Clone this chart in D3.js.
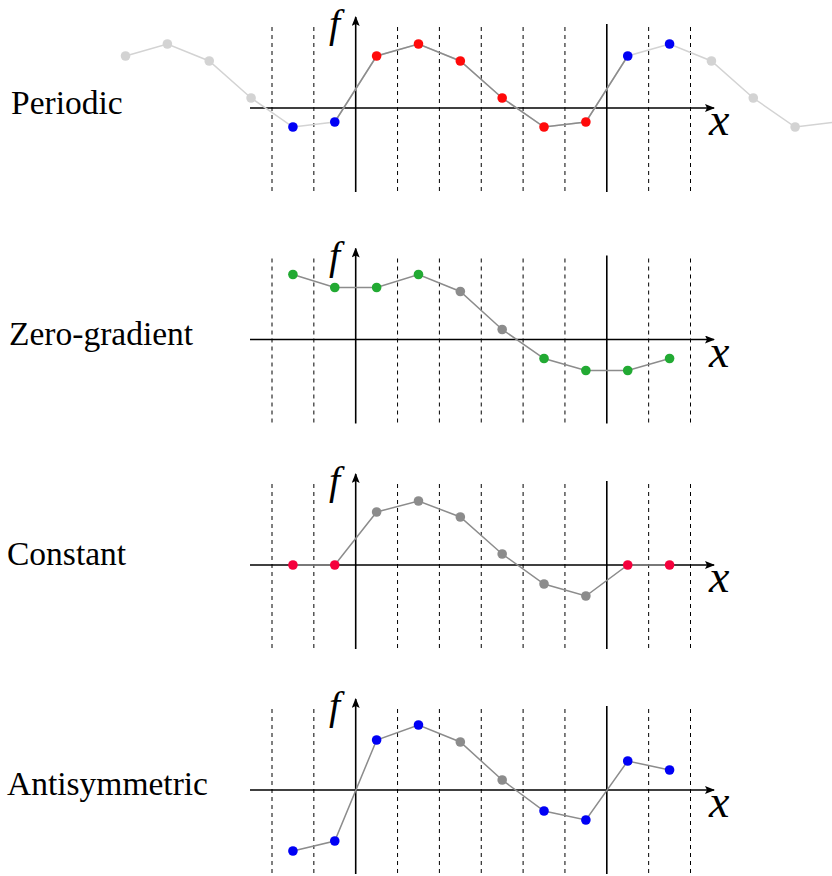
<!DOCTYPE html>
<html>
<head>
<meta charset="utf-8">
<script src="https://cdn.jsdelivr.net/npm/d3@7"></script>
<style>
  body { margin: 0; background: #fff; }
</style>
</head>
<body>
<div id="chart"></div>
<script>
// cell centres (in cell widths, the y axis sits at 0, the right boundary at 6)
const cellsPeriodic = [-5.5, -4.5, -3.5, -2.5, -1.5, -0.5, 0.5, 1.5, 2.5, 3.5, 4.5, 5.5, 6.5, 7.5, 8.5, 9.5, 10.5, 11.5];
const cells = [-1.5, -0.5, 0.5, 1.5, 2.5, 3.5, 4.5, 5.5, 6.5, 7.5];

// values
const periodicValues = [5.2, 6.4, 4.7, 1.0, -1.9, -1.4, 5.2, 6.4, 4.7, 1.0, -1.9, -1.4, 5.2, 6.4, 4.7, 1.0, -1.9, -1.4];
const zeroGradValues = [6.5, 5.2, 5.2, 6.5, 4.8, 1.0, -1.9, -3.1, -3.1, -1.9];
const constantValues = [0, 0, 5.3, 6.4, 4.8, 1.1, -1.9, -3.1, 0, 0];
const antisymValues = [-6.1, -5.1, 5.0, 6.5, 4.8, 1.0, -2.1, -3.0, 2.9, 2.0];

// point colour class for each value
const periodicKinds = ['faint', 'faint', 'faint', 'faint', 'blue', 'blue', 'red', 'red', 'red', 'red', 'red', 'red', 'blue', 'blue', 'faint', 'faint', 'faint', 'faint'];
const zeroGradKinds = ['green', 'green', 'green', 'green', 'gray', 'gray', 'green', 'green', 'green', 'green'];
const constantKinds = ['crimson', 'crimson', 'gray', 'gray', 'gray', 'gray', 'gray', 'gray', 'crimson', 'crimson'];
const antisymKinds = ['blue', 'blue', 'blue', 'blue', 'gray', 'gray', 'blue', 'blue', 'blue', 'blue'];

const labels = ['Periodic', 'Zero-gradient', 'Constant', 'Antisymmetric'];
const faces = [-2, -1, 1, 2, 3, 4, 5, 7, 8];

const colors = {
    faint: '#d3d3d3', blue: '#0000f5', red: '#ff0a0a', green: '#22aa33',
    gray: '#8c8c8c', crimson: '#f5003c'
};
const serif = 'Liberation Serif';

const width = 832, height = 876;
const svg = d3.select('#chart').append('svg')
    .attr('width', width)
    .attr('height', height);

const defs = svg.append('defs');
defs.append('marker')
    .attr('id', 'arrow')
    .attr('viewBox', '0 0 10 8')
    .attr('refX', 9).attr('refY', 4)
    .attr('markerWidth', 10).attr('markerHeight', 8)
    .attr('markerUnits', 'userSpaceOnUse')
    .attr('orient', 'auto')
    .append('path').attr('d', 'M0,0 L10,4 L0,8 L2,4 Z').attr('fill', '#000');

const x = d3.scaleLinear().domain([-2, 8]).range([272, 690.5]);

const panels = [
    { label: labels[0], cells: cellsPeriodic, values: periodicValues, kinds: periodicKinds, axisY: 108, labelX: 11, labelY: 114, dark: [5, 12] },
    { label: labels[1], cells: cells, values: zeroGradValues, kinds: zeroGradKinds, axisY: 339.5, labelX: 9, labelY: 345 },
    { label: labels[2], cells: cells, values: constantValues, kinds: constantKinds, axisY: 565, labelX: 7, labelY: 565 },
    { label: labels[3], cells: cells, values: antisymValues, kinds: antisymKinds, axisY: 790, labelX: 7, labelY: 795 }
];

panels.forEach(p => {
    const g = svg.append('g');
    //one unit = 10px
    const y = d3.scaleLinear().domain([-8.4, 8.1]).range([p.axisY + 84, p.axisY - 81]);

    g.append('text')
        .attr('x', p.labelX).attr('y', p.labelY)
        .style('font-family', serif)
        .attr('font-size', 33.5)
        .text(p.label);

    //dashed cell faces
    g.selectAll('.face').data(faces).join('line')
        .attr('x1', d => x(d)).attr('x2', d => x(d))
        .attr('y1', y(8.1)).attr('y2', y(-8.4))
        .attr('stroke', '#000').attr('stroke-width', 1)
        .attr('stroke-dasharray', '4,4');

    //right boundary
    g.append('line')
        .attr('x1', x(6)).attr('x2', x(6))
        .attr('y1', y(8.4)).attr('y2', y(-8.4))
        .attr('stroke', '#000').attr('stroke-width', 1.6);

    //axes
    g.append('line')
        .attr('x1', 250).attr('x2', 714)
        .attr('y1', y(0)).attr('y2', y(0))
        .attr('stroke', '#000').attr('stroke-width', 1.6)
        .attr('marker-end', 'url(#arrow)');
    g.append('line')
        .attr('x1', x(0)).attr('x2', x(0))
        .attr('y1', y(-8.4)).attr('y2', y(9.1))
        .attr('stroke', '#000').attr('stroke-width', 1.6)
        .attr('marker-end', 'url(#arrow)');

    g.append('text')
        .attr('x', 329).attr('y', y(7.1))
        .style('font-family', serif)
        .attr('font-size', 40).attr('font-style', 'italic')
        .text('f');
    g.append('text')
        .attr('x', 709).attr('y', y(-2.7))
        .style('font-family', serif)
        .attr('font-size', 46).attr('font-style', 'italic')
        .text('x');

    const pts = p.values.map((v, i) => ({ c: p.cells[i], v: v, k: p.kinds[i] }));
    const line = d3.line().x(d => x(d.c)).y(d => y(d.v));

    g.append('path')
        .attr('d', line(pts))
        .attr('fill', 'none')
        .attr('stroke', p.dark ? colors.faint : colors.gray)
        .attr('stroke-width', 1.5);
    if (p.dark) {
        g.append('path')
            .attr('d', line(pts.slice(p.dark[0], p.dark[1] + 1)))
            .attr('fill', 'none')
            .attr('stroke', colors.gray)
            .attr('stroke-width', 1.5);
    }

    g.selectAll('.pt').data(pts).join('circle')
        .attr('cx', d => x(d.c))
        .attr('cy', d => y(d.v))
        .attr('r', 4.8)
        .attr('fill', d => colors[d.k]);
});
</script>
</body>
</html>
